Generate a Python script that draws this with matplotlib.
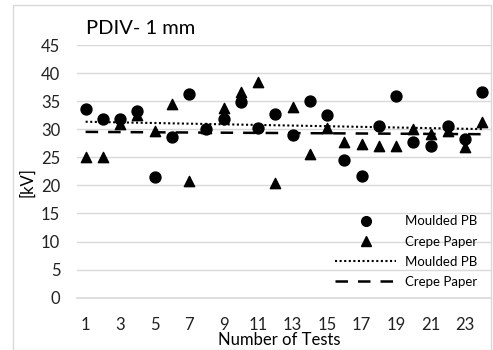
import matplotlib
matplotlib.use('Agg')
import matplotlib.pyplot as plt
import numpy as np
from matplotlib.lines import Line2D
from matplotlib.patches import Rectangle

plt.rcParams['font.family'] = ['Lato', 'DejaVu Sans']

tests = list(range(1, 25))
moulded_pb = [33.6, 31.8, 31.9, 33.2, 21.5, 28.6, 36.2, 30.0, 31.9, 34.9, 30.3, 32.7,
              28.9, 35.1, 32.5, 24.5, 21.7, 30.6, 36.0, 27.7, 27.1, 30.6, 28.3, 36.7]
crepe_paper = [25.0, 25.0, 30.9, 32.5, 29.6, 34.5, 20.7, 30.2, 33.7, 36.7, 38.4, 20.5,
               33.9, 25.6, 30.2, 27.8, 27.3, 27.1, 27.1, 30.0, 29.2, 29.7, 26.9, 31.2]
xtick_labels = [1, 3, 5, 7, 9, 11, 13, 15, 17, 19, 21, 23]
ytick_labels = [0, 5, 10, 15, 20, 25, 30, 35, 40, 45]

W, H = 493, 350
fig = plt.figure(figsize=(W / 100, H / 100), dpi=100)
# chart area border
fig.patches.append(Rectangle((13 / W, 0.0), 478 / W, 345 / H, transform=fig.transFigure,
                             fill=False, edgecolor='#d9d9d9', linewidth=1))
ax = fig.add_axes([77 / W, 1 - 297.7 / H, 414 / W, (297.7 - 45) / H])

ax.scatter(tests, moulded_pb, marker='o', s=62, color='black', zorder=3)
ax.scatter(tests, crepe_paper, marker='^', s=55, color='black', zorder=3)

# linear trendlines
x = np.array(tests)
k1, b1 = np.polyfit(x, moulded_pb, 1)
k2, b2 = np.polyfit(x, crepe_paper, 1)
ax.plot(x, k1 * x + b1, color='black', linestyle=(0, (1, 1.2)), linewidth=1.5, zorder=2)
ax.plot(x, k2 * x + b2, color='black', linestyle=(0, (5, 4)), linewidth=1.8, zorder=2)

ax.set_xlim(0.5, 24.5)
ax.set_ylim(0, 45)
ax.set_yticks(ytick_labels)
ax.set_xticks(xtick_labels)
ax.tick_params(length=0, labelsize=12, colors='#222222')
ax.tick_params(axis='x', pad=14)
ax.tick_params(axis='y', pad=12)
ax.grid(axis='y', color='#d9d9d9', linewidth=1)
ax.set_axisbelow(True)
for s in ['top', 'right', 'left']:
    ax.spines[s].set_visible(False)
ax.spines['bottom'].set_color('#d9d9d9')
ax.spines['bottom'].set_linewidth(1.2)

fig.text(86 / W, 1 - 28 / H, 'PDIV- 1 mm', fontsize=14.5, ha='left', va='center')
fig.text(279 / W, 1 - 340 / H, 'Number of Tests', fontsize=12, ha='center', va='center')
fig.text(27 / W, 1 - 182 / H, '[kV]', fontsize=12, ha='center', va='center', rotation=90)

handles = [
    Line2D([], [], marker='o', linestyle='none', color='black', markersize=7),
    Line2D([], [], marker='^', linestyle='none', color='black', markersize=6.5),
    Line2D([], [], color='black', linestyle=(0, (1, 1.2)), linewidth=1.5),
    Line2D([], [], color='black', linestyle=(0, (5, 4)), linewidth=1.8),
]
labels = ['Moulded PB', 'Crepe Paper', 'Moulded PB', 'Crepe Paper']
ax.legend(handles, labels, loc='lower right', bbox_to_anchor=(0.985, 0.01), frameon=False,
          fontsize=9.5, handlelength=4.6, labelspacing=0.62, borderaxespad=0.25,
          handletextpad=0.7, borderpad=0.3)

fig.savefig('out.png', dpi=100)
